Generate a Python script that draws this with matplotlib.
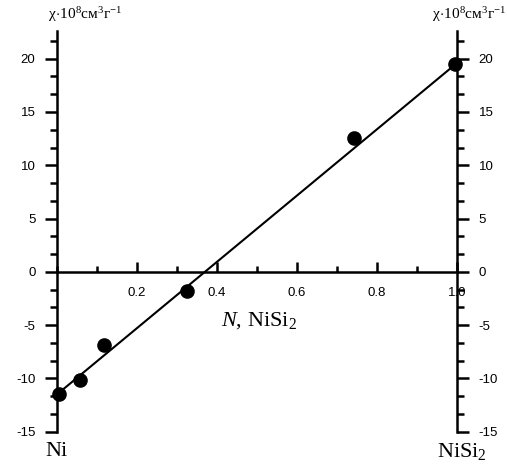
import matplotlib
matplotlib.use("Agg")
import matplotlib.pyplot as plt
from matplotlib.ticker import MultipleLocator, FuncFormatter
import numpy as np

# data
conc = [0.005, 0.058, 0.118, 0.326, 0.743, 0.995]
chi = [-11.45, -10.15, -6.85, -1.8, 12.55, 19.5]
fit_x = [0.0, 1.0]
fit_y = [-11.5, 19.6]
xticks = [0.2, 0.4, 0.6, 0.8, 1.0]
yticks = [-15, -10, -5, 0, 5, 10, 15, 20]

plt.rcParams['mathtext.fontset'] = 'custom'
plt.rcParams['mathtext.rm'] = 'Liberation Serif'
plt.rcParams['mathtext.it'] = 'Liberation Serif:italic'
plt.rcParams['font.family'] = ['Liberation Sans', 'DejaVu Sans']

fig = plt.figure(figsize=(5.07, 4.69), dpi=100)
ax = fig.add_axes([57/507, 1-431.7/469, 400/507, (431.7-31)/469])

ax.plot(fit_x, fit_y, color='black', lw=1.5, zorder=2, clip_on=False)
ax.plot(conc, chi, 'o', color='black', ms=9.5, zorder=3, clip_on=False)

ax.set_xlim(0, 1.0)
ax.set_ylim(-15, 22.6)

for s in ['left', 'right']:
    ax.spines[s].set_linewidth(1.8)
ax.spines['bottom'].set_position(('data', 0))
ax.spines['bottom'].set_linewidth(1.8)
ax.spines['top'].set_visible(False)

fmt = FuncFormatter(lambda v, p: ('%g' % v).replace('\u2212', '-'))
ax.set_xticks(xticks)
ax.xaxis.set_minor_locator(MultipleLocator(0.1))
ax.xaxis.set_major_formatter(FuncFormatter(lambda v, p: '%.1f' % v))
ax.set_yticks(yticks)
ax.yaxis.set_minor_locator(MultipleLocator(5/3))
ax.yaxis.set_major_formatter(fmt)

ax.tick_params(axis='x', which='major', direction='in', length=7.5, width=1.8,
               labelsize=9.5, pad=11)
ax.tick_params(axis='x', which='minor', direction='in', length=4.5, width=1.8)
ax.tick_params(axis='y', which='major', direction='out', length=8.5, width=1.8,
               labelsize=9.5, pad=7, left=True, right=True, labelleft=True, labelright=True)
ax.tick_params(axis='y', which='minor', direction='out', length=5, width=1.8,
               left=True, right=True)

unit = r'$\mathrm{χ}\!\cdot\!10^{8}\mathrm{см}^{3}\mathrm{г}^{-1}$'
fig.text(85/507, 1-15/469, unit, ha='center', va='center', fontsize=11)
fig.text(469/507, 1-15/469, unit, ha='center', va='center', fontsize=11)

fig.text(259/507, 1-321/469, r'$N$, NiSi$_2$', ha='center', va='center',
         fontsize=16, family='Liberation Serif')
fig.text(57/507, 1-451/469, 'Ni', ha='center', va='center',
         fontsize=16, family='Liberation Serif')
fig.text(462/507, 1-451/469, r'NiSi$_2$', ha='center', va='center',
         fontsize=16, family='Liberation Serif')

fig.savefig('out.png', dpi=100)
